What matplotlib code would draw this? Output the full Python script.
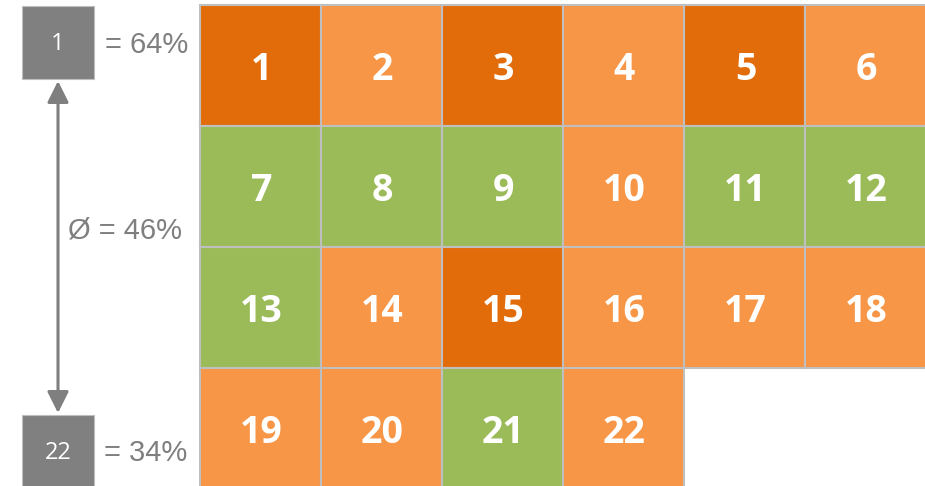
import matplotlib
matplotlib.use("Agg")
import matplotlib.pyplot as plt
from matplotlib.patches import Rectangle

# cell numbers and their class (0 = dark orange, 1 = light orange, 2 = green)
cells = list(range(1, 23))
classes = [0, 1, 0, 1, 0, 1,
           2, 2, 2, 1, 2, 2,
           2, 1, 0, 1, 1, 1,
           1, 1, 2, 1]
colors = {0: "#E36C0A", 1: "#F79646", 2: "#9BBB59"}

best_rank, worst_rank = 1, 22
best_pct, avg_pct, worst_pct = 64, 46, 34

NCOLS = 6
X0, Y0 = 200, 5     # top-left of grid in pixels
CW, CH = 121, 121   # cell size
GRAY = "#7F7F7F"

fig = plt.figure(figsize=(9.25, 4.86), dpi=100)
ax = fig.add_axes([0, 0, 1, 1])
ax.set_xlim(0, 925)
ax.set_ylim(486, 0)
ax.axis("off")

for i, (num, c) in enumerate(zip(cells, classes)):
    r, col = divmod(i, NCOLS)
    x = X0 + col * CW
    y = Y0 + r * CH
    ax.add_patch(Rectangle((x, y), CW, CH, facecolor=colors[c],
                           edgecolor="#BFBFBF", lw=1.5))
    ax.text(x + CW / 2 + 1, y + CH / 2 + 4, str(num), ha="center", va="center",
            color="white", fontsize=27, fontweight="bold", family="Open Sans")

# legend on the left: best / worst box, arrow, average
ax.add_patch(Rectangle((22, 6), 72, 73, facecolor="#808080", edgecolor="#BFBFBF", lw=0.8))
ax.text(58, 44, str(best_rank), ha="center", va="center", color="white",
        fontsize=17, family="Open Sans")
ax.add_patch(Rectangle((22, 415), 72, 76, facecolor="#808080", edgecolor="#BFBFBF", lw=0.8))
ax.text(58, 453, str(worst_rank), ha="center", va="center", color="white",
        fontsize=17, family="Open Sans")

ax.annotate("", xy=(58, 81), xytext=(58, 413),
            arrowprops=dict(arrowstyle="<|-|>,head_length=1.3,head_width=0.65",
                            color=GRAY, lw=2.2, shrinkA=0, shrinkB=0))

ax.text(105, 45, f"= {best_pct}%", ha="left", va="center", color=GRAY,
        fontsize=21, family="Liberation Sans")
ax.text(125, 230, f"Ø = {avg_pct}%", ha="center", va="center", color=GRAY,
        fontsize=21, family="Liberation Sans")
ax.text(104, 453, f"= {worst_pct}%", ha="left", va="center", color=GRAY,
        fontsize=21, family="Liberation Sans")

fig.savefig("out.png", dpi=100)
